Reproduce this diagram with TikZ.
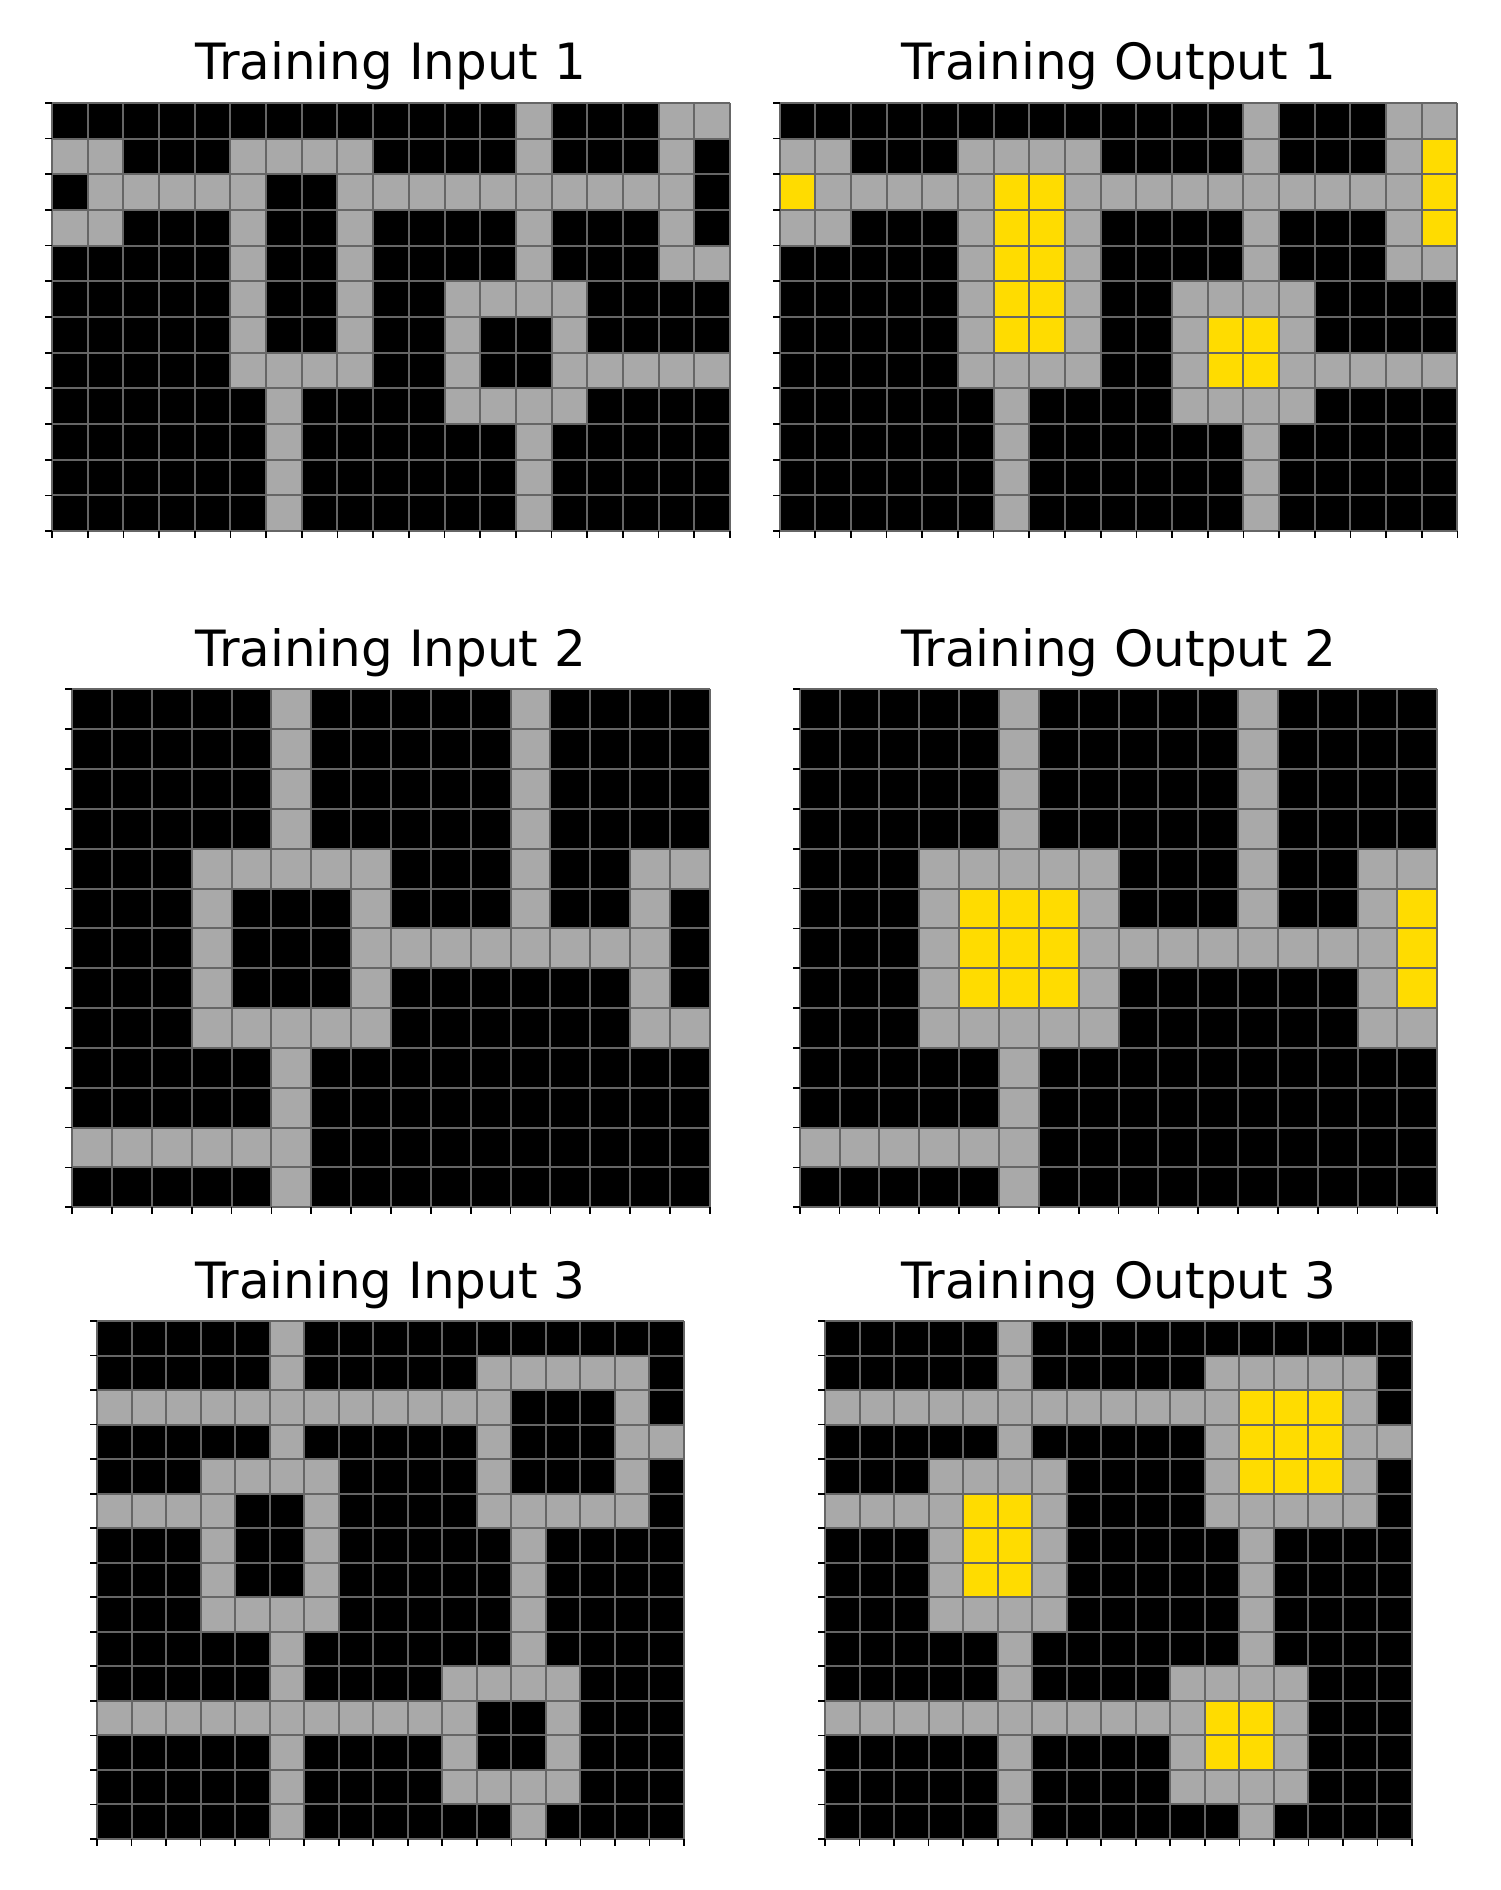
\documentclass[tikz,border=0pt]{standalone}
\usepackage{fontspec}
\setmainfont{DejaVu Sans}
\definecolor{cg}{HTML}{A9A9A9}
\definecolor{cy}{HTML}{FFDC00}
\definecolor{gridline}{HTML}{666666}
\tikzset{
  gridln/.style={draw=gridline, line width=2pt},
  tickmark/.style={draw=black, line width=1.7pt},
  paneltitle/.style={anchor=base, inner sep=0pt, font=\fontsize{50}{60}\selectfont},
}
% #1 cx, #2 cy (centre), #3 cols, #4 rows, #5 cell size, #6 title, #7 cell list macro, #8 name
\newcommand{\arcpanel}[8]{%
  \begin{scope}[shift={({#1-#3*#5/2},{#2+#4*#5/2})}, x=#5pt, y=-#5pt]
    \fill[black] (0,0) rectangle (#3,#4);
    \foreach \rr/\ca/\cb/\cc in #7 {\fill[\cc] (\ca,\rr) rectangle (\cb+1,\rr+1);}
    \foreach \ii in {0,...,#3} {\draw[gridln] (\ii,0) -- (\ii,#4);}
    \foreach \jj in {0,...,#4} {\draw[gridln] (0,\jj) -- (#3,\jj);}
    \foreach \jj in {0,...,#4} {\draw[tickmark] (0,\jj) -- ++(-7pt,0pt);}
    \foreach \ii in {0,...,#3} {\draw[tickmark] (\ii,#4) -- ++(0pt,-7pt);}
    \path (#3/2,0) ++(0pt,23pt) node[paneltitle] (#8) {#6};
  \end{scope}%
}
\newcommand{\gridAgray}{0/13/13/cg, 0/17/18/cg,
 1/0/1/cg, 1/5/8/cg, 1/13/13/cg, 1/17/17/cg,
 2/1/5/cg, 2/8/17/cg,
 3/0/1/cg, 3/5/5/cg, 3/8/8/cg, 3/13/13/cg, 3/17/17/cg,
 4/5/5/cg, 4/8/8/cg, 4/13/13/cg, 4/17/18/cg,
 5/5/5/cg, 5/8/8/cg, 5/11/14/cg,
 6/5/5/cg, 6/8/8/cg, 6/11/11/cg, 6/14/14/cg,
 7/5/8/cg, 7/11/11/cg, 7/14/18/cg,
 8/6/6/cg, 8/11/14/cg,
 9/6/6/cg, 9/13/13/cg,
 10/6/6/cg, 10/13/13/cg,
 11/6/6/cg, 11/13/13/cg}
\newcommand{\gridAyel}{1/18/18/cy, 2/0/0/cy, 2/6/7/cy, 2/18/18/cy, 3/6/7/cy, 3/18/18/cy,
 4/6/7/cy, 5/6/7/cy, 6/6/7/cy, 6/12/13/cy, 7/12/13/cy}
\newcommand{\gridBgray}{0/5/5/cg, 0/11/11/cg,
 1/5/5/cg, 1/11/11/cg,
 2/5/5/cg, 2/11/11/cg,
 3/5/5/cg, 3/11/11/cg,
 4/3/7/cg, 4/11/11/cg, 4/14/15/cg,
 5/3/3/cg, 5/7/7/cg, 5/11/11/cg, 5/14/14/cg,
 6/3/3/cg, 6/7/14/cg,
 7/3/3/cg, 7/7/7/cg, 7/14/14/cg,
 8/3/7/cg, 8/14/15/cg,
 9/5/5/cg, 10/5/5/cg, 11/0/5/cg, 12/5/5/cg}
\newcommand{\gridByel}{5/4/6/cy, 6/4/6/cy, 7/4/6/cy, 5/15/15/cy, 6/15/15/cy, 7/15/15/cy}
\newcommand{\gridCgray}{0/5/5/cg,
 1/5/5/cg, 1/11/15/cg,
 2/0/11/cg, 2/15/15/cg,
 3/5/5/cg, 3/11/11/cg, 3/15/16/cg,
 4/3/6/cg, 4/11/11/cg, 4/15/15/cg,
 5/0/3/cg, 5/6/6/cg, 5/11/15/cg,
 6/3/3/cg, 6/6/6/cg, 6/12/12/cg,
 7/3/3/cg, 7/6/6/cg, 7/12/12/cg,
 8/3/6/cg, 8/12/12/cg,
 9/5/5/cg, 9/12/12/cg,
 10/5/5/cg, 10/10/13/cg,
 11/0/10/cg, 11/13/13/cg,
 12/5/5/cg, 12/10/10/cg, 12/13/13/cg,
 13/5/5/cg, 13/10/13/cg,
 14/5/5/cg, 14/12/12/cg}
\newcommand{\gridCyel}{2/12/14/cy, 3/12/14/cy, 4/12/14/cy, 5/4/5/cy, 6/4/5/cy, 7/4/5/cy,
 11/11/12/cy, 12/11/12/cy}
\edef\gridAall{\gridAgray, \gridAyel}
\edef\gridBall{\gridBgray, \gridByel}
\edef\gridCall{\gridCgray, \gridCyel}
\begin{document}
\begin{tikzpicture}[x=1pt, y=1pt]
  \fill[white] (0,0) rectangle (1500,1890);
  \useasboundingbox (0,0) rectangle (1500,1890);
  \arcpanel{391}{1573}{19}{12}{35.68}{Training Input 1}{\gridAgray}{inA}
  \arcpanel{1118.5}{1573}{19}{12}{35.68}{Training Output 1}{\gridAall}{outA}
  \arcpanel{391}{941.7}{16}{13}{39.85}{Training Input 2}{\gridBgray}{inB}
  \arcpanel{1118.5}{941.7}{16}{13}{39.85}{Training Output 2}{\gridBall}{outB}
  \arcpanel{390.5}{310}{17}{15}{34.53}{Training Input 3}{\gridCgray}{inC}
  \arcpanel{1118.5}{310}{17}{15}{34.53}{Training Output 3}{\gridCall}{outC}
\end{tikzpicture}
\end{document}
